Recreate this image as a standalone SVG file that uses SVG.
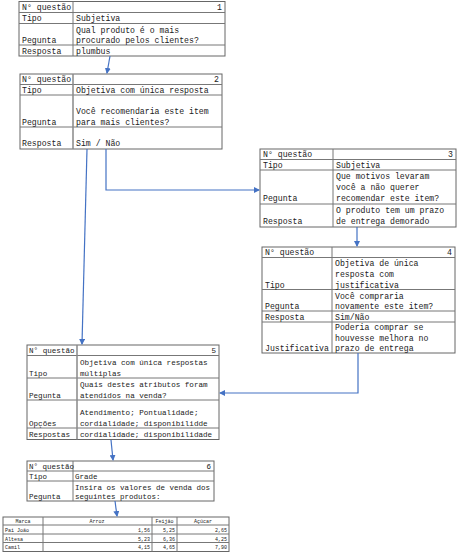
<svg xmlns="http://www.w3.org/2000/svg" width="462" height="556" viewBox="0 0 462 556">
<defs>
<marker id="ah" markerWidth="6" markerHeight="6" refX="5" refY="3" orient="auto" markerUnits="userSpaceOnUse"><path d="M0,0 L6,3 L0,6 Z" fill="#4472C4"/></marker>
<style>
.b{fill:#fff;stroke:#666;stroke-width:1}
.l{stroke:#777;stroke-width:1;fill:none}
.c{stroke:#888;stroke-width:1.5;fill:none}
text{font-family:"Liberation Mono","Courier New",monospace;fill:#222;font-size:8.2px}
.s5 text{font-size:7.6px}
.s6 text{font-size:7.5px}
.r{text-anchor:end}
.m{text-anchor:middle}
.t text{font-size:5px}
.k{stroke:#4472C4;stroke-width:1.2;fill:none;marker-end:url(#ah)}
</style>
</defs>
<rect width="462" height="556" fill="#fff"/>
<g id="q1">
<rect class="b" x="19" y="1.5" width="206" height="54.5"/>
<path class="l" d="M19,12.5H225M19,23.5H225M19,45H225M73,1.5V56"/>
<text x="22" y="10">N° questão</text><text class="r" x="222" y="10">1</text>
<text x="22" y="21">Tipo</text><text x="76" y="21">Subjetiva</text>
<text x="76" y="32.5">Qual produto é o mais</text>
<text x="22" y="43">Pegunta</text><text x="76" y="43">procurado pelos clientes?</text>
<text x="22" y="54">Resposta</text><text x="76" y="54">plumbus</text>
</g>
<g id="q2">
<rect class="b" x="20" y="74" width="202" height="75"/>
<path class="l" d="M20,84.5H222M20,95H222M20,127H222"/>
<path class="c" d="M73,74V149"/>
<text x="22" y="82">N° questão</text><text class="r" x="219" y="82">2</text>
<text x="22" y="92.5">Tipo</text><text x="76" y="92.5">Objetiva com única resposta</text>
<text x="76" y="114">Você recomendaria este item</text>
<text x="22" y="124.5">Pegunta</text><text x="76" y="124.5">para mais clientes?</text>
<text x="22" y="146">Resposta</text><text x="76" y="146">Sim / Não</text>
</g>
<g id="q3">
<rect class="b" x="260" y="149" width="196" height="78"/>
<path class="l" d="M260,159.5H456M260,170H456M260,204H456M333,149V227"/>
<text x="263" y="157">N° questão</text><text class="r" x="453" y="157">3</text>
<text x="263" y="167.5">Tipo</text><text x="336" y="167.5">Subjetiva</text>
<text x="336" y="179">Que motivos levaram</text>
<text x="336" y="190">você a não querer</text>
<text x="263" y="201">Pegunta</text><text x="336" y="201">recomendar este item?</text>
<text x="336" y="213">O produto tem um prazo</text>
<text x="263" y="224">Resposta</text><text x="336" y="224">de entrega demorado</text>
</g>
<g id="q4">
<rect class="b" x="262" y="247" width="193" height="106"/>
<path class="l" d="M262,257.5H455M262,289.5H455M262,311H455M262,322H455M332,247V353"/>
<text x="265" y="255">N° questão</text><text class="r" x="452" y="255">4</text>
<text x="335" y="265.5">Objetiva de única</text>
<text x="335" y="276.5">resposta com</text>
<text x="265" y="287.5">Tipo</text><text x="335" y="287.5">justificativa</text>
<text x="335" y="298.5">Você compraria</text>
<text x="265" y="309">Pegunta</text><text x="335" y="309">novamente este item?</text>
<text x="265" y="320">Resposta</text><text x="335" y="320">Sim/Não</text>
<text x="335" y="330">Poderia comprar se</text>
<text x="335" y="340.5">houvesse melhora no</text>
<text x="265" y="351">Justificativa</text><text x="335" y="351">prazo de entrega</text>
</g>
<g id="q5" class="s5">
<rect class="b" x="27" y="345" width="192" height="94.5"/>
<path class="l" d="M27,355.5H219M27,378H219M27,400H219M27,428H219"/>
<path class="c" d="M77,345V439.5"/>
<text x="29" y="353">N° questão</text><text class="r" x="216" y="353">5</text>
<text x="80" y="365">Objetiva com única respostas</text>
<text x="29" y="376">Tipo</text><text x="80" y="376">múltiplas</text>
<text x="80" y="387">Quais destes atributos foram</text>
<text x="29" y="398">Pegunta</text><text x="80" y="398">atendidos na venda?</text>
<text x="80" y="414.5">Atendimento; Pontualidade;</text>
<text x="29" y="425.5">Opções</text><text x="80" y="425.5">cordialidade; disponibilidde</text>
<text x="29" y="437">Respostas</text><text x="80" y="437">cordialidade; disponibilidade</text>
</g>
<g id="q6" class="s6">
<rect class="b" x="27" y="461" width="187" height="40"/>
<path class="l" d="M27,471H214M27,481H214M73,461V501"/>
<text x="29" y="469">N° questão</text><text class="r" x="211" y="469">6</text>
<text x="29" y="479">Tipo</text><text x="75" y="479">Grade</text>
<text x="75" y="489.5">Insira os valores de venda dos</text>
<text x="29" y="499">Pegunta</text><text x="75" y="499">seguintes produtos:</text>
</g>
<g id="grade" class="t">
<rect class="b" x="3" y="517" width="226" height="34.5"/>
<path class="l" d="M3,525H229M3,534H229M3,542.5H229M43,517V551.5M152,517V551.5M177,517V551.5"/>
<text class="m" x="23" y="523">Marca</text><text class="m" x="97" y="523">Arroz</text><text class="m" x="164.5" y="523">Feijão</text><text class="m" x="203" y="523">Açúcar</text>
<text x="5" y="532">Pai João</text><text class="r" x="150" y="532">1,56</text><text class="r" x="175" y="532">5,25</text><text class="r" x="227" y="532">2,65</text>
<text x="5" y="540.5">Altesa</text><text class="r" x="150" y="540.5">5,23</text><text class="r" x="175" y="540.5">6,36</text><text class="r" x="227" y="540.5">4,25</text>
<text x="5" y="549">Camil</text><text class="r" x="150" y="549">4,15</text><text class="r" x="175" y="549">4,65</text><text class="r" x="227" y="549">7,90</text>
</g>
<g id="connectors">
<path class="k" d="M110,56L107,73"/>
<path class="k" d="M87,149L82,344"/>
<path class="k" d="M106,149V190H259"/>
<path class="k" d="M357,227V246"/>
<path class="k" d="M358,353V393H220"/>
<path class="k" d="M111,440L113,460"/>
<path class="k" d="M115,501L117,516"/>
</g>
</svg>
